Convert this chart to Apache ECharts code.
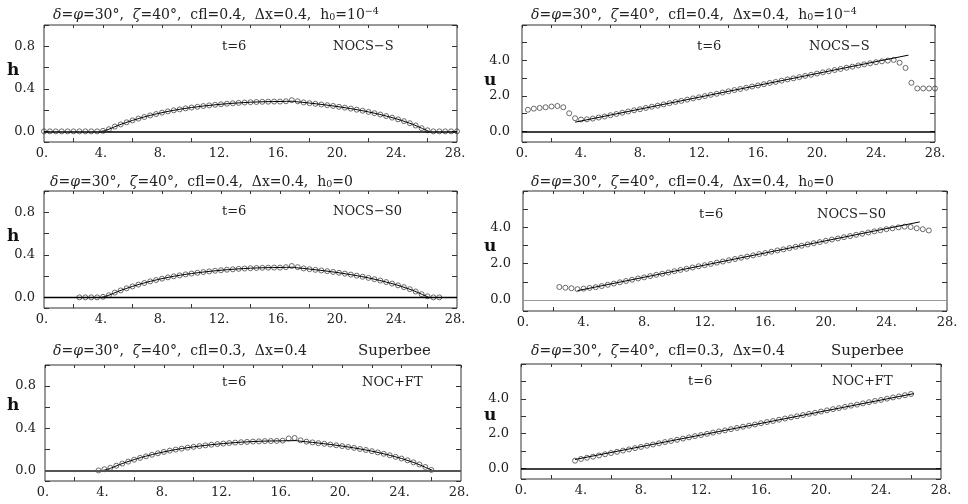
<!DOCTYPE html>
<html>
<head>
<meta charset="utf-8">
<script src="https://cdn.jsdelivr.net/npm/echarts@6/dist/echarts.min.js"></script>
<style>
  html, body { margin: 0; padding: 0; background: #fff; }
  #chart { width: 968px; height: 504px; }
</style>
</head>
<body>
<div id="chart"></div>
<script>
// Cell centres of the grid (dx = 0.4) on which the schemes are sampled
const xCells = [0,0.4,0.8,1.2,1.6,2,2.4,2.8,3.2,3.6,4,4.4,4.8,5.2,5.6,6,6.4,6.8,7.2,7.6,
  8,8.4,8.8,9.2,9.6,10,10.4,10.8,11.2,11.6,12,12.4,12.8,13.2,13.6,14,14.4,14.8,15.2,15.6,
  16,16.4,16.8,17.2,17.6,18,18.4,18.8,19.2,19.6,20,20.4,20.8,21.2,21.6,22,22.4,22.8,23.2,23.6,
  24,24.4,24.8,25.2,25.6,26,26.4,26.8,27.2,27.6,28];
const _ = null;

// Depth h at t = 6
const hNocsS = [0,0,0,0,0,0,0,0,0,0,
  0.005,0.02,0.045,0.065,0.085,0.103,0.12,0.135,0.15,0.163,
  0.176,0.188,0.198,0.207,0.216,0.224,0.231,0.238,0.244,0.25,
  0.255,0.26,0.264,0.268,0.271,0.274,0.276,0.278,0.279,0.28,
  0.28,0.283,0.293,0.283,0.272,0.265,0.259,0.253,0.246,0.239,
  0.231,0.223,0.214,0.204,0.194,0.183,0.171,0.158,0.144,0.129,
  0.113,0.096,0.077,0.055,0.03,0.01,0,0,0,0,
  0];
const hNocsS0 = [_,_,_,_,_,_,0,0,0,0,
  0.005,0.02,0.045,0.065,0.085,0.103,0.12,0.135,0.15,0.163,
  0.176,0.188,0.198,0.207,0.216,0.224,0.231,0.238,0.244,0.25,
  0.255,0.26,0.264,0.268,0.271,0.274,0.276,0.278,0.279,0.28,
  0.28,0.284,0.295,0.284,0.272,0.265,0.259,0.253,0.246,0.239,
  0.231,0.223,0.214,0.204,0.194,0.183,0.171,0.158,0.144,0.129,
  0.113,0.096,0.077,0.055,0.03,0.01,0,0,_,_,
  _];
const hNocFt = [_,_,_,_,_,_,_,_,_,0,
  0.012,0.025,0.045,0.065,0.084,0.102,0.119,0.134,0.149,0.163,
  0.176,0.188,0.198,0.207,0.216,0.224,0.231,0.238,0.244,0.25,
  0.255,0.26,0.264,0.268,0.271,0.274,0.276,0.278,0.279,0.28,
  0.283,0.303,0.308,0.286,0.273,0.266,0.259,0.253,0.246,0.239,
  0.231,0.223,0.214,0.204,0.194,0.183,0.171,0.158,0.144,0.129,
  0.113,0.096,0.077,0.057,0.033,0.005,_,_,_,_,
  _];

// Velocity u at t = 6
const uNocsS = [_,1.22,1.28,1.32,1.36,1.40,1.43,1.36,1.02,0.74,
  0.67,0.68,0.72,0.78,0.84,0.91,0.98,1.05,1.12,1.19,
  1.25,1.32,1.39,1.45,1.52,1.59,1.66,1.72,1.79,1.86,
  1.92,1.99,2.06,2.12,2.19,2.26,2.33,2.39,2.46,2.53,
  2.59,2.66,2.73,2.79,2.86,2.93,2.99,3.06,3.13,3.19,
  3.26,3.33,3.39,3.46,3.52,3.59,3.65,3.72,3.78,3.84,
  3.90,3.95,3.99,4.03,3.87,3.58,2.74,2.42,2.42,2.42,
  2.42];
const uNocsS0 = [_,_,_,_,_,_,0.72,0.68,0.65,0.60,
  0.63,0.67,0.71,0.77,0.84,0.91,0.98,1.05,1.12,1.19,
  1.25,1.32,1.39,1.45,1.52,1.59,1.66,1.72,1.79,1.86,
  1.92,1.99,2.06,2.12,2.19,2.26,2.33,2.39,2.46,2.53,
  2.59,2.66,2.73,2.79,2.86,2.93,2.99,3.06,3.13,3.19,
  3.26,3.33,3.39,3.46,3.52,3.59,3.65,3.72,3.78,3.84,
  3.90,3.95,4.00,4.04,4.02,3.95,3.90,3.83,_,_,
  _];
const uNocFt = [_,_,_,_,_,_,_,_,_,0.45,
  0.55,0.62,0.68,0.75,0.82,0.89,0.96,1.03,1.10,1.17,
  1.24,1.31,1.38,1.45,1.52,1.58,1.65,1.72,1.79,1.86,
  1.92,1.99,2.06,2.13,2.19,2.26,2.33,2.40,2.46,2.53,
  2.60,2.67,2.73,2.80,2.87,2.94,3.00,3.07,3.14,3.20,
  3.27,3.34,3.41,3.47,3.54,3.61,3.67,3.74,3.81,3.88,
  3.94,4.01,4.08,4.14,4.21,4.28,_,_,_,_,
  _];

// Exact similarity solution at t = 6
const hExactX = [3.9,4.4,5,6,7,8,9,10,11,12,13,14,15,16,16.9,17.1,18,19,20,21,22,23,24,25,25.6,26.1];
const hExactY = [0,0.02,0.055,0.103,0.143,0.176,0.203,0.224,0.241,0.255,0.266,0.274,0.279,0.281,0.283,0.279,0.266,0.25,0.231,0.209,0.183,0.151,0.113,0.066,0.03,0];
const uExactX = [3.6, 26.2];
const uExactY = [0.52, 4.30];

const xTickStep = 4;
const serif = 'DejaVu Serif';
const ink = '#222';

const titleRich = {
  i: { fontFamily: serif, fontStyle: 'italic', fontSize: 14, color: ink },
  sub: { fontFamily: serif, fontSize: 9.5, color: ink, verticalAlign: 'bottom' },
  sup: { fontFamily: serif, fontSize: 9.5, color: ink, verticalAlign: 'top' }
};
const head = '{i|δ}={i|φ}=30°,  {i|ζ}=40°,  ';

const panels = [
  { rect: [44, 25, 413, 117], kind: 'h', vals: hNocsS, zero: ['#000', 1.6], shift: 4,
    title: head + 'cfl=0.4,  Δx=0.4,  h{sub|0}=10{sup|−4}', titlePos: [53, 7],
    scheme: 'NOCS−S', tPos: [222, 39], sPos: [333, 39], name: [7, 62] },
  { rect: [522, 25, 413, 117], kind: 'u', vals: uNocsS, zero: ['#000', 1.6], shift: 0,
    title: head + 'cfl=0.4,  Δx=0.4,  h{sub|0}=10{sup|−4}', titlePos: [531, 7],
    scheme: 'NOCS−S', tPos: [697, 39], sPos: [809, 39], name: [484, 72] },
  { rect: [44, 191, 413, 117], kind: 'h', vals: hNocsS0, zero: ['#000', 1.4], shift: 4,
    title: head + 'cfl=0.4,  Δx=0.4,  h{sub|0}=0', titlePos: [50, 174],
    scheme: 'NOCS−S0', tPos: [222, 204], sPos: [333, 204], name: [7, 228] },
  { rect: [523, 191, 424, 120], kind: 'u', vals: uNocsS0, zero: ['#999', 1], shift: 0,
    title: head + 'cfl=0.4,  Δx=0.4,  h{sub|0}=0', titlePos: [531, 174],
    scheme: 'NOCS−S0', tPos: [699, 207], sPos: [817, 207], name: [484, 238] },
  { rect: [45, 365, 416, 116], kind: 'h', vals: hNocFt, zero: ['#555', 2], shift: 4,
    title: head + 'cfl=0.3,  Δx=0.4', titlePos: [53, 343], extra: ['Superbee', 358, 343],
    scheme: 'NOC+FT', tPos: [222, 375], sPos: [362, 375], name: [7, 397] },
  { rect: [521, 364, 420, 115], kind: 'u', vals: uNocFt, zero: ['#000', 1.6], shift: 0,
    title: head + 'cfl=0.3,  Δx=0.4', titlePos: [531, 343], extra: ['Superbee', 831, 343],
    scheme: 'NOC+FT', tPos: [688, 374], sPos: [832, 374], name: [484, 407] }
];

const axisSpec = {
  h: { min: -0.1, max: 1.0, tick: 0.2, label: 0.4, labelMax: 0.8, margin: 9 },
  u: { min: -0.6, max: 6.0, tick: 1.0, label: 2.0, labelMax: 4.0, margin: 12 }
};

function yLabel(spec) {
  return function (v) {
    if (v < -1e-9 || v > spec.labelMax + 1e-9) return '';
    const q = v / spec.label;
    return Math.abs(q - Math.round(q)) < 1e-6 ? v.toFixed(1) : '';
  };
}

const tickLine = { color: '#333', width: 1 };
const grid = [], xAxis = [], yAxis = [], series = [], title = [];

panels.forEach(function (p, k) {
  const spec = axisSpec[p.kind];
  grid.push({ left: p.rect[0], top: p.rect[1], width: p.rect[2], height: p.rect[3],
    show: true, borderColor: '#333', borderWidth: 1, backgroundColor: 'transparent',
    containLabel: false, outerBoundsMode: 'none' });

  // bottom axis: labels every 4, short marks half-way between them
  xAxis.push({ gridIndex: k, type: 'value', position: 'bottom', min: 0, max: 28, interval: xTickStep,
    axisLine: { show: false, onZero: false }, splitLine: { show: false },
    axisTick: { show: false, inside: true },
    minorTick: { show: true, splitNumber: 2, length: 4, lineStyle: tickLine },
    minorSplitLine: { show: false },
    axisLabel: { formatter: function (v) { return v + '.'; }, fontFamily: serif, fontSize: 13,
      color: ink, margin: 5, padding: [0, p.shift, 0, 0], showMinLabel: true, showMaxLabel: true } });
  // top axis: marks every 2, no labels
  xAxis.push({ gridIndex: k, type: 'value', position: 'top', min: 0, max: 28, interval: 2,
    axisLine: { show: false, onZero: false }, splitLine: { show: false },
    axisTick: { show: true, inside: true, length: 3, lineStyle: tickLine },
    axisLabel: { show: false } });

  const yCommon = { gridIndex: k, type: 'value', min: spec.min, max: spec.max,
    minInterval: spec.tick, maxInterval: spec.tick,
    axisLine: { show: false, onZero: false }, splitLine: { show: false } };
  yAxis.push(Object.assign({}, yCommon, { position: 'left',
    axisTick: { show: true, inside: true, length: 5, lineStyle: tickLine },
    axisLabel: { formatter: yLabel(spec), fontFamily: serif, fontSize: 13, color: ink,
      margin: spec.margin, showMinLabel: true, showMaxLabel: true } }));
  yAxis.push(Object.assign({}, yCommon, { position: 'right',
    axisTick: { show: true, inside: true, length: 5, lineStyle: tickLine },
    axisLabel: { show: false } }));

  const pts = [];
  xCells.forEach(function (x, i) { if (p.vals[i] !== null) pts.push([x, p.vals[i]]); });
  const ex = p.kind === 'h' ? hExactX : uExactX;
  const ey = p.kind === 'h' ? hExactY : uExactY;
  const exact = ex.map(function (x, i) { return [x, ey[i]]; });

  series.push({ type: 'scatter', xAxisIndex: 2 * k, yAxisIndex: 2 * k, data: pts,
    symbol: 'circle', symbolSize: 5, z: 2,
    itemStyle: { color: 'transparent', borderColor: '#333', borderWidth: 0.9 } });
  series.push({ type: 'line', xAxisIndex: 2 * k, yAxisIndex: 2 * k, data: exact,
    showSymbol: false, smooth: p.kind === 'h' ? 0.3 : false, z: 3,
    lineStyle: { color: '#000', width: 1 },
    markLine: { silent: true, symbol: ['none', 'none'], label: { show: false },
      lineStyle: { color: p.zero[0], width: p.zero[1], type: 'solid' },
      data: [{ yAxis: 0 }] } });

  const base = { fontFamily: serif, fontSize: 13, fontWeight: 'normal', color: ink, lineHeight: 16 };
  title.push({ text: p.title, left: p.titlePos[0], top: p.titlePos[1], padding: 0,
    textStyle: Object.assign({}, base, { fontSize: 14, rich: titleRich }) });
  if (p.extra) title.push({ text: p.extra[0], left: p.extra[1], top: p.extra[2], padding: 0,
    textStyle: Object.assign({}, base, { fontSize: 15 }) });
  title.push({ text: 't=6', left: p.tPos[0], top: p.tPos[1], padding: 0, textStyle: base });
  title.push({ text: p.scheme, left: p.sPos[0], top: p.sPos[1], padding: 0, textStyle: base });
  title.push({ text: p.kind, left: p.name[0], top: p.name[1], padding: 0,
    textStyle: { fontFamily: serif, fontSize: 17, fontWeight: 'bold', color: '#111', lineHeight: 18 } });
});

const chart = echarts.init(document.getElementById('chart'), null, { renderer: 'canvas' });
chart.setOption({ animation: false, backgroundColor: '#fff', title: title,
  grid: grid, xAxis: xAxis, yAxis: yAxis, series: series });
</script>
</body>
</html>
